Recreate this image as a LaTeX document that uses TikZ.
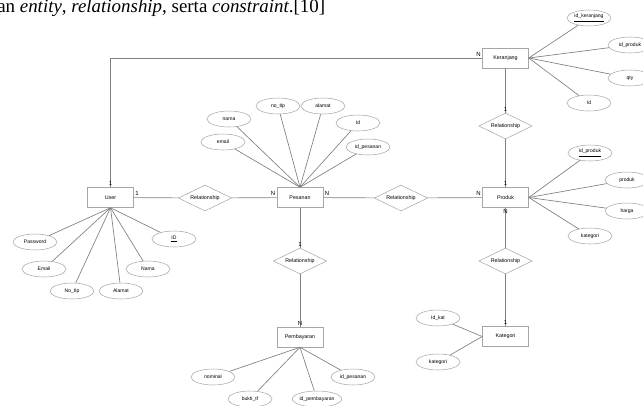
\documentclass[tikz,border=0pt]{standalone}
\usepackage{fontspec}
\setmainfont{Liberation Sans}
\newfontfamily\timesfont{Liberation Serif}
\usepackage{tikz}
\usetikzlibrary{shapes.geometric, positioning}

\tikzset{
    entitas/.style={draw=gray!70, rectangle, minimum width=34.5pt, minimum height=15pt, inner sep=0pt, font=\fontsize{4}{5}\selectfont},
    atribut/.style={draw=gray!70, ellipse, minimum width=33pt, minimum height=12pt, inner sep=0pt, font=\fontsize{3.8}{4.5}\selectfont},
    relasi/.style={draw=gray!70, diamond, aspect=2, minimum width=40pt, minimum height=19.5pt, inner sep=0pt, font=\fontsize{4}{5}\selectfont},
    garis/.style={draw=gray, line width=0.5pt},
    kardinal/.style={font=\fontsize{4.5}{5}\selectfont, inner sep=1pt}
}

\begin{document}
\begin{tikzpicture}[x=0.75pt, y=-0.75pt]
    \useasboundingbox (0,0) rectangle (643,405);
    \clip (0,0) rectangle (643,405);

    % Dòng chữ bị cắt phía trên
    \node[anchor=base west, inner sep=0pt, font=\timesfont\fontsize{14.2}{16}\selectfont] (teks) at (-3,12)
        {an \textit{entity}, \textit{relationship}, serta \textit{constraint}.[10]};

    % Thực thể
    \node[entitas] (user) at (110.5,197.5) {User};
    \node[entitas] (pesanan) at (300,197.5) {Pesanan};
    \node[entitas] (produk) at (505.5,197.5) {Produk};
    \node[entitas] (keranjang) at (505.5,58) {Keranjang};
    \node[entitas] (kategori) at (505.5,336.5) {Kategori};
    \node[entitas] (pembayaran) at (300,337) {Pembayaran};

    % Quan hệ
    \node[relasi] (relUP) at (205,198) {Relationship};
    \node[relasi] (relPP) at (401,198) {Relationship};
    \node[relasi] (relKP) at (505.5,126) {Relationship};
    \node[relasi] (relPK) at (505.5,261) {Relationship};
    \node[relasi] (relPB) at (300,261) {Relationship};

    % Đường nối
    \draw[garis] (user.north) |- (keranjang.west);
    \draw[garis] (user) -- (relUP) -- (pesanan) -- (relPP) -- (produk);
    \draw[garis] (keranjang) -- (relKP) -- (produk) -- (relPK) -- (kategori);
    \draw[garis] (pesanan) -- (relPB) -- (pembayaran);

    % Thuộc tính User
    \node[atribut] (uPass) at (35,242) {Password} edge[garis] (user.south);
    \node[atribut] (uEmail) at (44,269) {Email} edge[garis] (user.south);
    \node[atribut] (uTlp) at (72,291) {No\_tlp} edge[garis] (user.south);
    \node[atribut] (uAlamat) at (121,291) {Alamat} edge[garis] (user.south);
    \node[atribut] (uNama) at (148,269) {Nama} edge[garis] (user.south);
    \node[atribut] (uId) at (174,239) {\underline{ID}} edge[garis] (user.south);

    % Thuộc tính Pesanan
    \node[atribut] (pEmail) at (223,142) {email} edge[garis] (pesanan.north);
    \node[atribut] (pNama) at (229,119) {nama} edge[garis] (pesanan.north);
    \node[atribut] (pTlp) at (278,106) {no\_tlp} edge[garis] (pesanan.north);
    \node[atribut] (pAlamat) at (323,106) {alamat} edge[garis] (pesanan.north);
    \node[atribut] (pId) at (358,123) {Id} edge[garis] (pesanan.north);
    \node[atribut] (pIdPes) at (368,147) {id\_pesanan} edge[garis] (pesanan.north);

    % Thuộc tính Keranjang
    \node[atribut] (kIdKer) at (589,18) {\underline{id\_keranjang}} edge[garis] (keranjang.east);
    \node[atribut] (kIdPro) at (630,45) {id\_produk} edge[garis] (keranjang.east);
    \node[atribut] (kQty) at (630,78) {qty} edge[garis] (keranjang.east);
    \node[atribut] (kId) at (589,103) {Id} edge[garis] (keranjang.east);

    % Thuộc tính Produk
    \node[atribut] (prId) at (590,153) {\underline{id\_produk}} edge[garis] (produk.east);
    \node[atribut] (prNama) at (627,180) {produk} edge[garis] (produk.east);
    \node[atribut] (prHarga) at (627,211) {harga} edge[garis] (produk.east);
    \node[atribut] (prKat) at (590,236) {kategori} edge[garis] (produk.east);

    % Thuộc tính Kategori
    \node[atribut] (ktId) at (438,318) {Id\_kat} edge[garis] (kategori.west);
    \node[atribut] (ktNama) at (438,362) {kategori} edge[garis] (kategori.west);

    % Thuộc tính Pembayaran
    \node[atribut] (bNominal) at (213,377) {nominal} edge[garis] (pembayaran.south);
    \node[atribut] (bBukti) at (250,399) {bukti\_tf} edge[garis] (pembayaran.south);
    \node[atribut] (bId) at (317,399) {id\_pembayaran} edge[garis] (pembayaran.south);
    \node[atribut] (bIdPes) at (353,377) {id\_pesanan} edge[garis] (pembayaran.south);

    % Bản số
    \node[kardinal, above] at (user.north) {1};
    \node[kardinal, above right] at (user.east) {1};
    \node[kardinal, above left] at (pesanan.west) {N};
    \node[kardinal, above right] at (pesanan.east) {N};
    \node[kardinal, above left] at (produk.west) {N};
    \node[kardinal, above left] at (keranjang.west) {N};
    \node[kardinal, above] at (relKP.north) {1};
    \node[kardinal, above] at (produk.north) {1};
    \node[kardinal, below] at (produk.south) {N};
    \node[kardinal, above] at (kategori.north) {1};
    \node[kardinal, above] at (relPB.north) {1};
    \node[kardinal, above] at (pembayaran.north) {N};
\end{tikzpicture}
\end{document}
